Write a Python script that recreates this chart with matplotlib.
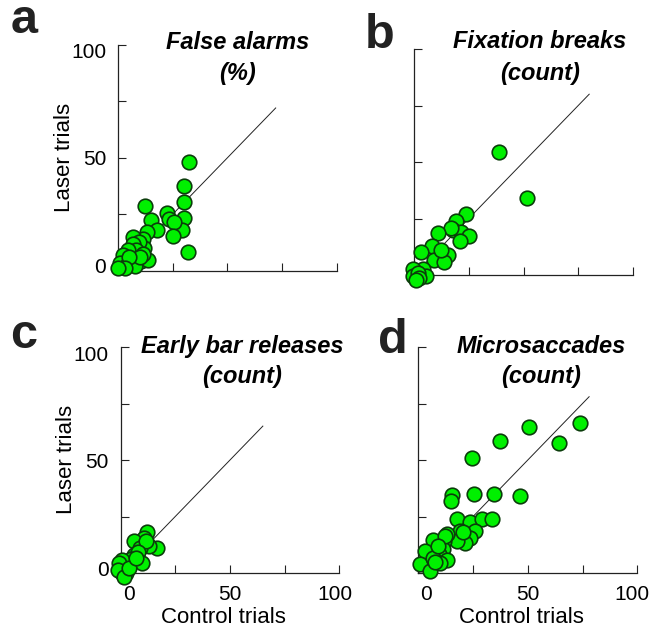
import matplotlib
matplotlib.use('Agg')

import matplotlib.pyplot as plt
from matplotlib.transforms import ScaledTranslation

plt.rcParams['font.family'] = ['Liberation Sans', 'DejaVu Sans']

# a - false alarms (%)
fa_control = [32.6, 30, 30, 30, 29, 32, 22.5, 23.5, 25.5, 25, 12.2, 15, 18, 13.3, 11.5, 7,
              7.7, 12, 9.6, 6.9, 8.4, 4.7, 2.4, 0.9, 3.9, 10.7, 13.7, 11.5, 6.2, 7.7, 10, 5, 3, 0]
fa_laser = [48, 37.5, 30.5, 23.5, 18, 8.3, 25.5, 23, 21.5, 15.2, 28.6, 22.5, 18, 17, 14, 15,
            11.5, 10, 12.8, 12, 9, 9, 6.8, 3.5, 2.5, 4.5, 4.8, 7.5, 4.5, 2, 6, 6, 1, 1]

# b - fixation breaks (count)
fb_control = [38.9, 51.7, 23.8, 19, 17.8, 21.6, 25, 21, 17, 11, 8, 3.2, 9.2, 15.5, 13.7,
              12.5, 4.2, -0.3, -0.3, 5.7, 1.9, 2.5, 0.8]
fb_laser = [54.6, 34.2, 27, 24, 20, 19, 17.2, 15, 21, 18.4, 13, 10, 6.6, 9, 5.6,
            10.9, 2.6, 2.6, -0.5, -0.5, 1, -1.5, -2]

# c - early bar releases (count)
eb_control = [12, 10.6, 16.6, 6, 12.8, 9, 11.5, 6, 8, 9.8, 3, 5, 0.8, -0.8, 0, 2.3, -1, 1.5, 4, 7]
eb_laser = [18, 15.7, 11.2, 14.2, 11.9, 11.2, 14, 8.1, 9.5, 4.4, 4.4, 6, 5.9, 4.4, 0.6, -0.1,
            1.5, -1.7, 2, 6.5]

# d - microsaccades (count)
ms_control = [74, 50.4, 64.3, 37.4, 24.3, 15.5, 15, 25.3, 34.4, 46.5, 17.8, 23.5, 29.3, 33.8,
              25.8, 19, 23.5, 21.3, 17.8, 13, 11.8, 6.6, 11.4, 9.6, 13, 5.7, 3.2, 0.6, 5.4,
              10, 6.9, 20.5, 12.2, 7.5, 9]
ms_laser = [66.5, 64.4, 57.5, 58.4, 51.1, 34.3, 32, 34.8, 34.8, 34.1, 24, 22.5, 23.7, 23.7,
            18.7, 18.7, 15.7, 13.4, 14.2, 17.2, 14.2, 14.6, 10.4, 8.6, 5.9, 8.6, 9.6, 4.1, 0.9,
            4.4, 6.6, 18, 16.4, 5, 12]

letters = ['a', 'b', 'c', 'd']
titles = ['False alarms', 'Fixation breaks', 'Early bar releases', 'Microsaccades']
units = ['(%)', '(count)', '(count)', '(count)']
unity_end = [72, 80, 65, 78]
ticks = [0, 25, 50, 75, 100]
ticklabels = ['0', '', '50', '', '100']

W, H = 653, 630
SX, SY = 2.19, 2.26   # px per unit
LO, HI = -8, 102

# pixel position of data origin for each panel
origins = [(118, 270.7), (414, 275), (120.5, 573), (418.3, 573)]
title_pos = [(238, 49, 80), (540, 48, 80), (242, 353, 383), (541, 353, 383)]
letter_pos = [(11, 33), (365, 48), (10, 348), (378, 353)]
# tick labels in the original sit a little closer to the middle of the axis
x_shift = [8, 0, 0, 0, -5]
y_shift = [5, 0, 0, 0, -6]

data = [(fa_control, fa_laser), (fb_control, fb_laser),
        (eb_control, eb_laser), (ms_control, ms_laser)]

fig = plt.figure(figsize=(W / 100, H / 100), dpi=100)

for i in range(4):
    x0, y0 = origins[i]
    left = (x0 + LO * SX) / W
    bottom = (H - (y0 - LO * SY)) / H
    ax = fig.add_axes([left, bottom, (HI - LO) * SX / W, (HI - LO) * SY / H])
    ax.set_xlim(LO, HI)
    ax.set_ylim(LO, HI)
    ax.patch.set_alpha(0)

    ctrl, laser = data[i]
    ax.plot([0, unity_end[i]], [0, unity_end[i]], color='#222222', lw=0.7, zorder=1)
    ax.scatter(ctrl, laser, s=110, facecolor='#00f000', edgecolor='#0b3d0b',
               linewidth=1.2, zorder=3, clip_on=False)

    for side in ['top', 'right']:
        ax.spines[side].set_visible(False)
    for side in ['left', 'bottom']:
        ax.spines[side].set_position(('data', 0))
        ax.spines[side].set_bounds(0, 100)
        ax.spines[side].set_linewidth(0.9)
        ax.spines[side].set_color('#222222')
        ax.spines[side].set_zorder(2)

    ax.set_xticks(ticks)
    ax.set_yticks(ticks)
    ax.tick_params(direction='in', length=5.8, width=0.8, color='#222222',
                   labelsize=15, pad=8.5)
    if i >= 2:
        ax.set_xticklabels(ticklabels)
        ax.set_xlabel('Control trials', fontsize=16, va='center')
        ax.xaxis.set_label_coords(0.5, -0.105)
        for lab, dx in zip(ax.get_xticklabels(), x_shift):
            lab.set_transform(lab.get_transform() + ScaledTranslation(dx / 100, 0, fig.dpi_scale_trans))
    else:
        ax.set_xticklabels([])
    if i % 2 == 0:
        ax.set_yticklabels(ticklabels)
        ax.set_ylabel('Laser trials', fontsize=16, va='center')
        ax.yaxis.set_label_coords(-0.15, 0.53)
        for lab, dy in zip(ax.get_yticklabels(), y_shift):
            lab.set_transform(lab.get_transform() + ScaledTranslation(0, dy / 100, fig.dpi_scale_trans))
    else:
        ax.set_yticklabels([])

    tx, b1, b2 = title_pos[i]
    fig.text(tx / W, 1 - b1 / H, titles[i], fontsize=17, fontweight='bold',
             fontstyle='italic', ha='center', va='baseline')
    fig.text(tx / W, 1 - b2 / H, units[i], fontsize=17, fontweight='bold',
             fontstyle='italic', ha='center', va='baseline')
    lx, ly = letter_pos[i]
    fig.text(lx / W, 1 - ly / H, letters[i], fontsize=35, fontweight='bold',
             ha='left', va='baseline', color='#222222')

plt.savefig('out.png', dpi=100)
